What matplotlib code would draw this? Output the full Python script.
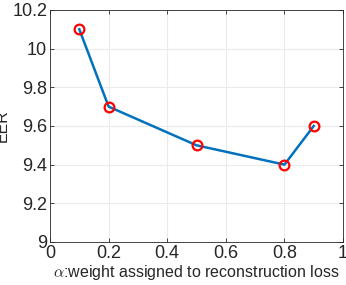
import matplotlib
matplotlib.use("Agg")
import matplotlib.pyplot as plt

alpha_vals = [0.1, 0.2, 0.5, 0.8, 0.9]
eer_vals = [10.1, 9.7, 9.5, 9.4, 9.6]
xticks = [0, 0.2, 0.4, 0.6, 0.8, 1]
xticklabels = ["0", "0.2", "0.4", "0.6", "0.8", "1"]
yticks = [9, 9.2, 9.4, 9.6, 9.8, 10, 10.2]
yticklabels = ["9", "9.2", "9.4", "9.6", "9.8", "10", "10.2"]

plt.rcParams['font.family'] = ['Liberation Sans', 'DejaVu Sans']
plt.rcParams['mathtext.fontset'] = 'cm'

fig = plt.figure(figsize=(3.46, 2.85), dpi=100)
ax = fig.add_axes([0.1445, 0.151, 0.847, 0.814])
ax.plot(alpha_vals, eer_vals, color=(0, 0.447, 0.741), linewidth=1.8, zorder=2)
ax.plot(alpha_vals, eer_vals, linestyle='none', marker='o', markersize=7,
        markerfacecolor='none', markeredgecolor='#ff0000', markeredgewidth=1.6, zorder=3)
ax.set_xlim(0, 1)
ax.set_ylim(9, 10.2)
ax.set_xticks(xticks)
ax.set_xticklabels(xticklabels)
ax.set_yticks(yticks)
ax.set_yticklabels(yticklabels)
ax.grid(True, color='#ebebeb', linewidth=0.8)
ax.set_axisbelow(True)
for s in ax.spines.values():
    s.set_color('#262626')
    s.set_linewidth(0.6)
ax.tick_params(direction='in', length=3, width=0.6, colors='#262626',
               labelsize=13, top=True, right=True, pad=2)
ax.set_xlabel(r"$\alpha$:weight assigned to reconstruction loss", fontsize=11.5,
              color='#262626', labelpad=1)
ax.set_ylabel("EER", fontsize=11.5, color='#262626', labelpad=2)
fig.savefig("out.png", dpi=100)
